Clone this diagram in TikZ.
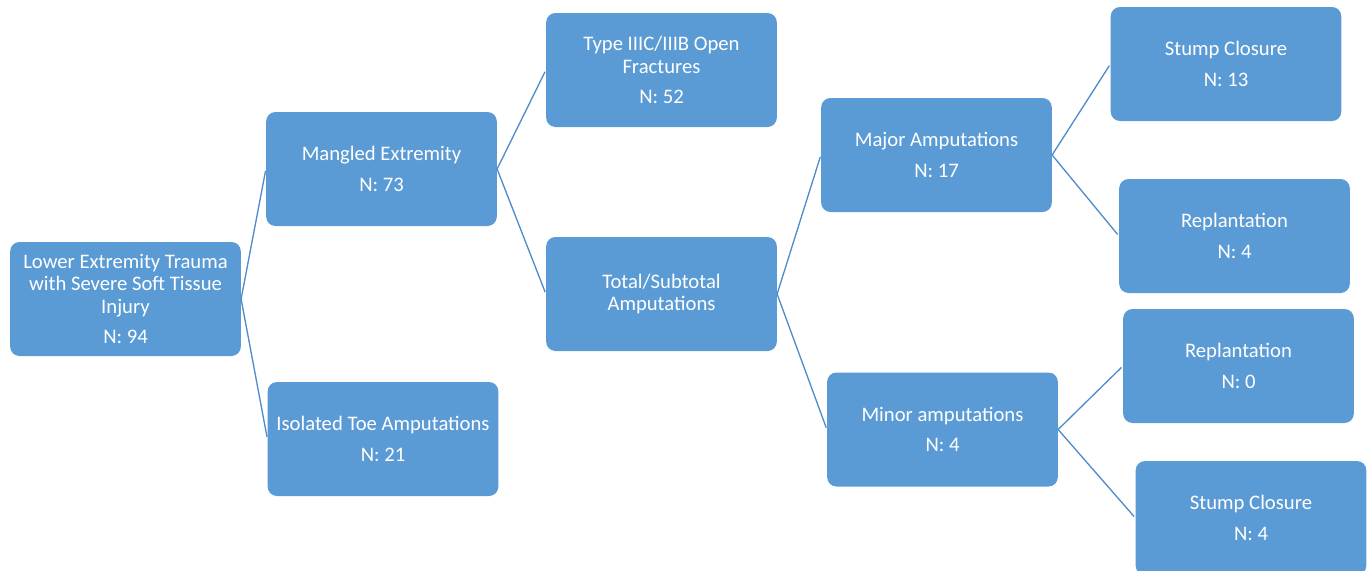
\documentclass[tikz,border=0pt]{standalone}
\usepackage{fontspec}
\setmainfont{Carlito}
\usepackage{tikz}
\definecolor{boxBlue}{RGB}{91,155,213}
\definecolor{lineBlue}{RGB}{80,140,203}
\tikzset{treebox/.style={fill=boxBlue, rounded corners=7pt, minimum width=173pt, minimum height=85.5pt, inner sep=0pt, align=center, text=white, font=\fontsize{15.5}{16.8}\selectfont}}
\tikzset{branch/.style={lineBlue, line width=1pt, shorten >=1.5pt}}

\begin{document}
\begin{tikzpicture}[x=0.75pt, y=-0.75pt]

  \useasboundingbox (0,0) rectangle (1371,571);
  \clip (0,0) rectangle (1371,571);
  \node [treebox] (trauma) at (125.5,299) {Lower Extremity Trauma\\with Severe Soft Tissue\\Injury\\[6pt]N: 94};
  \node [treebox] (mangled) at (381.5,169) {Mangled Extremity\\[6pt]N: 73};
  \node [treebox] (toe) at (383,439) {Isolated Toe Amputations\\[6pt]N: 21};
  \node [treebox] (openfx) at (661.5,70) {Type IIIC/IIIB Open\\Fractures\\[6pt]N: 52};
  \node [treebox] (total) at (661.5,294) {Total/Subtotal\\Amputations};
  \node [treebox] (major) at (936.5,155) {Major Amputations\\[6pt]N: 17};
  \node [treebox] (minor) at (942.5,429.5) {Minor amputations\\[6pt]N: 4};
  \node [treebox] (stumpA) at (1226,64) {Stump Closure\\[6pt]N: 13};
  \node [treebox] (replA) at (1234.5,236) {Replantation\\[6pt]N: 4};
  \node [treebox] (replB) at (1238.5,366) {Replantation\\[6pt]N: 0};
  \node [treebox] (stumpB) at (1251,518) {Stump Closure\\[6pt]N: 4};
  \draw [branch] (trauma.east) -- (mangled.west);
  \draw [branch] (trauma.east) -- (toe.west);
  \draw [branch] (mangled.east) -- (openfx.west);
  \draw [branch] (mangled.east) -- (total.west);
  \draw [branch] (total.east) -- (major.west);
  \draw [branch] (total.east) -- (minor.west);
  \draw [branch] (major.east) -- (stumpA.west);
  \draw [branch] (major.east) -- (replA.west);
  \draw [branch] (minor.east) -- (replB.west);
  \draw [branch] (minor.east) -- (stumpB.west);
\end{tikzpicture}
\end{document}
